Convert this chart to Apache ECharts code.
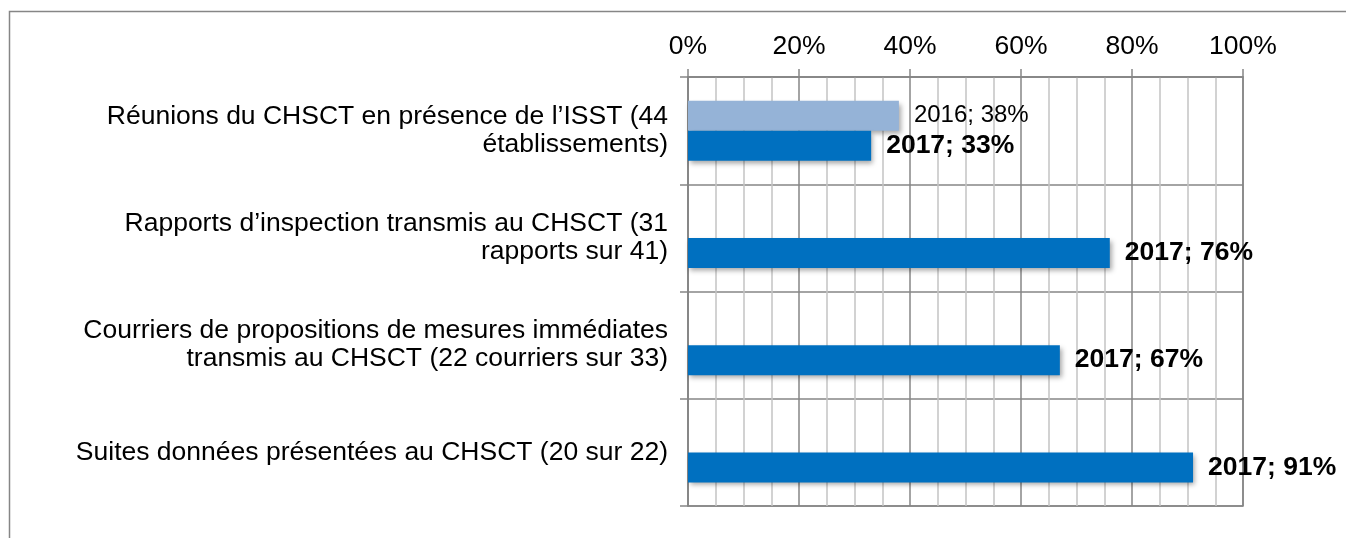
<!DOCTYPE html>
<html>
<head>
<meta charset="utf-8">
<script src="https://cdn.jsdelivr.net/npm/echarts@6/dist/echarts.min.js"></script>
<style>
  html, body { margin: 0; padding: 0; background: #fff; }
  #chart { width: 1346px; height: 538px; }
</style>
</head>
<body>
<div id="chart"></div>
<script>
// categories (top to bottom) and values in %
var categories = [
    'Réunions du CHSCT en présence de l’ISST (44\nétablissements)',
    'Rapports d’inspection transmis au CHSCT (31\nrapports sur 41)',
    'Courriers de propositions de mesures immédiates\ntransmis au CHSCT (22 courriers sur 33)',
    'Suites données présentées au CHSCT (20 sur 22)'
];
var values2016 = [38, null, null, null];
var values2017 = [33, 76, 67, 91];
var xTicks = [0, 20, 40, 60, 80, 100];

var chart = echarts.init(document.getElementById('chart'));
var font = 'Liberation Sans, Arial, sans-serif';
var darkLine = '#868686';
var lightLine = '#c4c4c4';

var option = {
    animation: false,
    textStyle: { fontFamily: font },
    graphic: [{
        type: 'rect',
        shape: { x: 9.5, y: 11.5, width: 2000, height: 1000 },
        style: { fill: 'none', stroke: darkLine, lineWidth: 1.5 },
        silent: true
    }],
    grid: {
        left: 688,
        right: 103,
        top: 77,
        bottom: 32,
        show: true,
        borderColor: darkLine,
        borderWidth: 1.5,
        backgroundColor: 'transparent'
    },
    xAxis: {
        type: 'value',
        position: 'top',
        min: xTicks[0],
        max: xTicks[xTicks.length - 1],
        interval: 20,
        axisLine: { show: true, lineStyle: { color: darkLine, width: 1.5 } },
        axisTick: { show: true, length: 8, lineStyle: { color: darkLine, width: 1.5 } },
        axisLabel: {
            formatter: '{value}%',
            margin: 17,
            color: '#000',
            fontSize: 26.5,
            fontFamily: font
        },
        splitLine: { show: true, lineStyle: { color: darkLine, width: 1.5 } },
        minorTick: { show: false, splitNumber: 4 },
        minorSplitLine: { show: true, lineStyle: { color: lightLine, width: 1.5 } }
    },
    yAxis: {
        type: 'category',
        inverse: true,
        data: categories,
        axisLine: { show: true, lineStyle: { color: darkLine, width: 1.5 } },
        axisTick: { show: true, length: 8, lineStyle: { color: darkLine, width: 1.5 } },
        axisLabel: {
            margin: 20,
            color: '#000',
            fontSize: 26.5,
            lineHeight: 28,
            align: 'right',
            fontFamily: font
        },
        splitLine: { show: true, lineStyle: { color: darkLine, width: 1.5 } }
    },
    series: [{
        name: '2016',
        type: 'bar',
        data: values2016,
        barWidth: 30,
        barGap: '0%',
        itemStyle: {
            color: '#95B3D7',
            shadowColor: 'rgba(0,0,0,0.35)',
            shadowBlur: 5,
            shadowOffsetX: 2,
            shadowOffsetY: 3
        },
        label: {
            show: true,
            position: 'right',
            distance: 15,
            formatter: '{a}; {c}%',
            color: '#000',
            fontSize: 24,
            fontFamily: font
        }
    }, {
        name: '2017',
        type: 'bar',
        data: values2017,
        barWidth: 30,
        barGap: '0%',
        itemStyle: {
            color: '#0070C0',
            shadowColor: 'rgba(0,0,0,0.35)',
            shadowBlur: 5,
            shadowOffsetX: 2,
            shadowOffsetY: 3
        },
        label: {
            show: true,
            position: 'right',
            distance: 15,
            formatter: '{a}; {c}%',
            color: '#000',
            fontSize: 26.5,
            fontWeight: 'bold',
            fontFamily: font
        }
    }]
};

chart.setOption(option);
</script>
</body>
</html>
